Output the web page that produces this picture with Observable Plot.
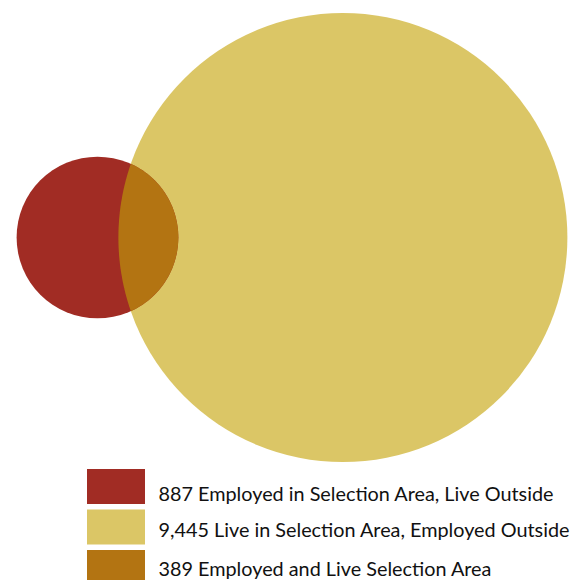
<!DOCTYPE html>
<html><head><meta charset="utf-8">
<script src="https://cdn.jsdelivr.net/npm/d3@7"></script>
<script src="https://cdn.jsdelivr.net/npm/@observablehq/plot@0.6"></script>
<style>html,body{margin:0;padding:0;background:#fff}</style>
</head><body><div id="chart"></div>
<script>
// ---- data ----
const setNames = ["Employed in Selection Area, Live Outside", "Live in Selection Area, Employed Outside", "Employed and Live Selection Area"];
const setCounts = [887, 9445, 389];
const setColors = ["#a12c24", "#dbc666", "#b37412"];

// ---- layout ----
const W = 583, H = 580;
const rMax = 224.5;
const vennCy = 237;
const swatch = {x1: 87, x2: 145, top: 469, step: 40.5, h: 35};
const textX = 158;
const textBaselines = [500, 536, 575];
const fmt = d3.format(",");

const onlyA = setCounts[0], onlyB = setCounts[1], both = setCounts[2];
const totalA = onlyA + both, totalB = onlyB + both;
const rScale = d3.scaleSqrt().domain([0, totalB]).range([0, rMax]);
const rA = rScale(totalA), rB = rScale(totalB);
const unitArea = Math.PI * rB * rB / totalB;
const targetOverlap = both * unitArea;

function lensArea(d, r1, r2) {
  if (d >= r1 + r2) return 0;
  if (d <= Math.abs(r2 - r1)) return Math.PI * Math.min(r1, r2) ** 2;
  const a1 = Math.acos((d*d + r1*r1 - r2*r2) / (2*d*r1));
  const a2 = Math.acos((d*d + r2*r2 - r1*r1) / (2*d*r2));
  const k = Math.sqrt((-d + r1 + r2) * (d + r1 - r2) * (d - r1 + r2) * (d + r1 + r2));
  return r1*r1*a1 + r2*r2*a2 - 0.5*k;
}
let lo = Math.abs(rB - rA), hi = rA + rB;
for (let i = 0; i < 100; i++) {
  const mid = (lo + hi) / 2;
  if (lensArea(mid, rA, rB) > targetOverlap) lo = mid; else hi = mid;
}
const dist = (lo + hi) / 2;
const boxW = rA + dist + rB;
const xA = W / 2 - boxW / 2 + rA;
const xB = xA + dist;

const circles = [
  {key: 0, x: xA, y: vennCy, total: totalA},
  {key: 1, x: xB, y: vennCy, total: totalB}
];

// lens polygon (intersection of the two circles)
const a = (dist*dist + rA*rA - rB*rB) / (2*dist);
const h = Math.sqrt(rA*rA - a*a);
const t1 = Math.atan2(h, a), t2 = Math.atan2(h, dist - a);
const lens = [];
const N = 120;
for (let i = 0; i <= N; i++) {
  const t = -t1 + 2*t1*i/N;
  lens.push({x: xA + rA*Math.cos(t), y: vennCy + rA*Math.sin(t)});
}
for (let i = 0; i <= N; i++) {
  const t = Math.PI - t2 + 2*t2*i/N;
  lens.push({x: xB + rB*Math.cos(t), y: vennCy + rB*Math.sin(t)});
}

const legendRows = setCounts.map((c, i) => ({i, label: fmt(c) + " " + setNames[i], color: setColors[i]}));

// fit the legend font size so the widest row matches the original width
const maxTextW = 412;
const probe = document.createElement("canvas").getContext("2d");
probe.font = "20px Lato";
const natW = d3.max(legendRows, d => probe.measureText(d.label).width);
const legendFont = Math.min(20, 20 * maxTextW / natW);

const plot = Plot.plot({
  width: W, height: H,
  margin: 0,
  style: {background: "#fff"},
  x: {domain: [0, W], range: [0, W], axis: null},
  y: {domain: [0, H], range: [0, H], axis: null},
  r: {type: "sqrt", domain: [0, totalB], range: [0, rMax]},
  marks: [
    Plot.dot(circles, {x: "x", y: "y", r: "total", fill: d => setColors[d.key], stroke: "none"}),
    Plot.line(lens, {x: "x", y: "y", fill: setColors[2], stroke: "none", curve: "linear"}),
    Plot.rect(legendRows, {
      x1: () => swatch.x1, x2: () => swatch.x2,
      y1: d => swatch.top + d.i * swatch.step, y2: d => swatch.top + d.i * swatch.step + swatch.h,
      fill: d => d.color
    }),
    Plot.text(legendRows, {
      x: () => textX, y: d => textBaselines[d.i], text: "label",
      textAnchor: "start", lineAnchor: "bottom", fontSize: legendFont,
      fontFamily: "Lato", fill: "#111"
    })
  ]
});
document.getElementById("chart").appendChild(plot);
</script>
</body></html>
